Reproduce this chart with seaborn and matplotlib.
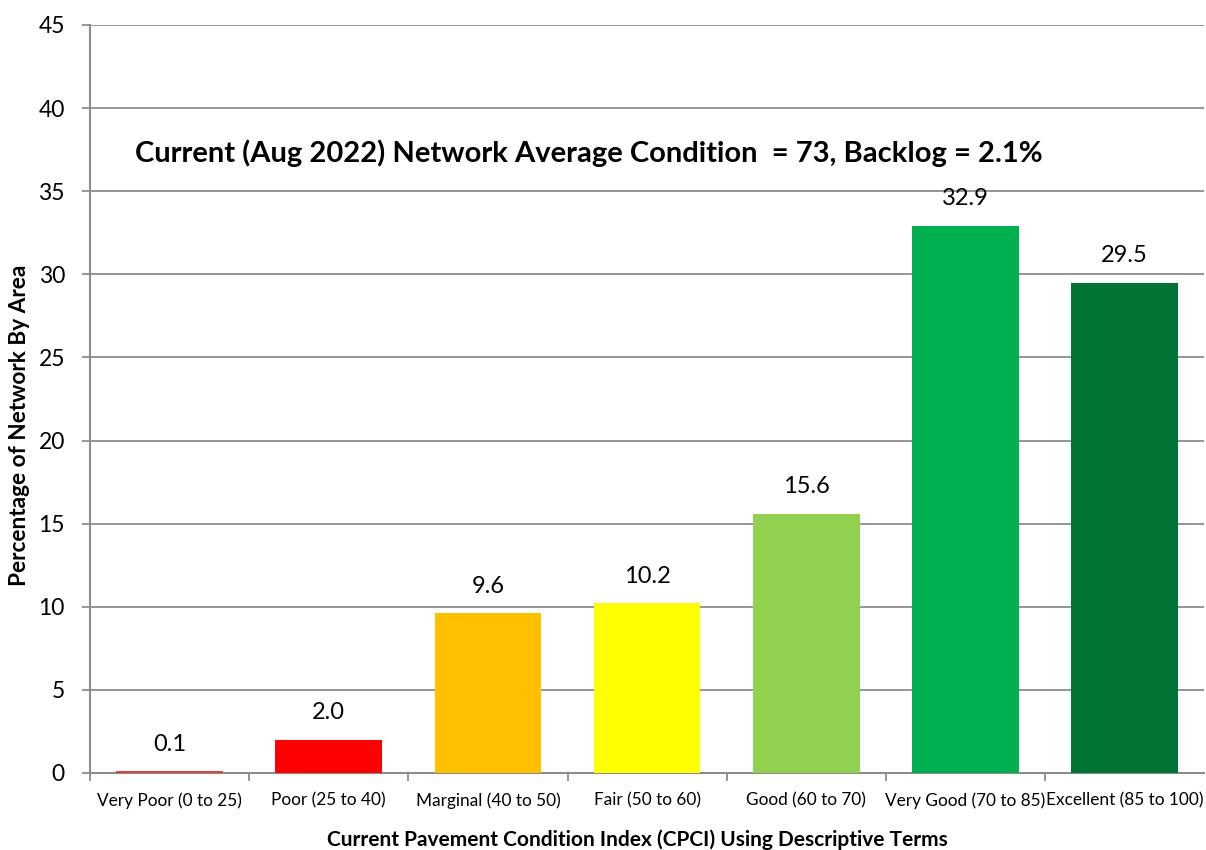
import matplotlib
matplotlib.use("Agg")
import matplotlib.pyplot as plt
import seaborn as sns
import pandas as pd

categories = ["Very Poor (0 to 25)", "Poor (25 to 40)", "Marginal (40 to 50)",
              "Fair (50 to 60)", "Good (60 to 70)", "Very Good (70 to 85)",
              "Excellent (85 to 100)"]
percent = [0.1, 2.0, 9.6, 10.2, 15.6, 32.9, 29.5]
bar_colors = ["#E04040", "#FF0000", "#FFC000", "#FFFF00", "#92D050", "#00B050", "#007434"]

sns.set_theme(style="white")
plt.rcParams["font.family"] = ["Lato", "DejaVu Sans"]

df = pd.DataFrame({"category": categories, "percent": percent})

fig = plt.figure(figsize=(12.06, 8.5), dpi=100)
ax = fig.add_axes([0.0746, 0.0906, 0.924, 0.88])

sns.barplot(data=df, x="category", y="percent", hue="category",
            palette=bar_colors, width=0.67, legend=False, ax=ax,
            saturation=1, edgecolor="none")

ax.set_ylim(0, 45)
ax.set_xlim(-0.5, len(categories) - 0.5)
ax.set_yticks(range(0, 46, 5))
ax.yaxis.grid(True, color="#8c8c8c", linewidth=1.3)
ax.set_axisbelow(True)

for s in ["top", "right"]:
    ax.spines[s].set_visible(False)
for s in ["left", "bottom"]:
    ax.spines[s].set_color("#8c8c8c")
    ax.spines[s].set_linewidth(1.5)
# keep the bars above the baseline so the tiny first bar stays visible
ax.spines["bottom"].set_zorder(0.6)

ax.tick_params(axis="y", which="both", left=True, length=6, width=1.3,
               color="#8c8c8c", labelsize=16.5, pad=12, labelcolor="black")
ax.set_xticks(range(len(categories)))
ax.set_xticklabels(categories, fontsize=12.4, color="black")
ax.tick_params(axis="x", which="major", bottom=False, pad=8)
ax.set_xticks([i - 0.5 for i in range(len(categories))], minor=True)
ax.tick_params(axis="x", which="minor", bottom=True, length=6, width=1.3,
               color="#8c8c8c")

for i, v in enumerate(percent):
    ax.text(i, v + 1.0, f"{v:.1f}", ha="center", va="bottom", fontsize=17,
            color="black")

ax.text(0.04, 0.829, "Current (Aug 2022) Network Average Condition  = 73, Backlog = 2.1%",
        transform=ax.transAxes, fontsize=21, fontweight="bold", ha="left",
        va="center", color="black")

ax.set_ylabel("")
ax.set_xlabel("")
fig.text(20 / 1206, 1 - 425 / 850, "Percentage of Network By Area", rotation=90,
         fontsize=16.3, fontweight="bold", ha="center", va="center", color="black")
fig.text(637 / 1206, 1 - 840 / 850,
         "Current Pavement Condition Index (CPCI) Using Descriptive Terms",
         fontsize=15, fontweight="bold", ha="center", va="center", color="black")

fig.savefig("out.png", dpi=100)
